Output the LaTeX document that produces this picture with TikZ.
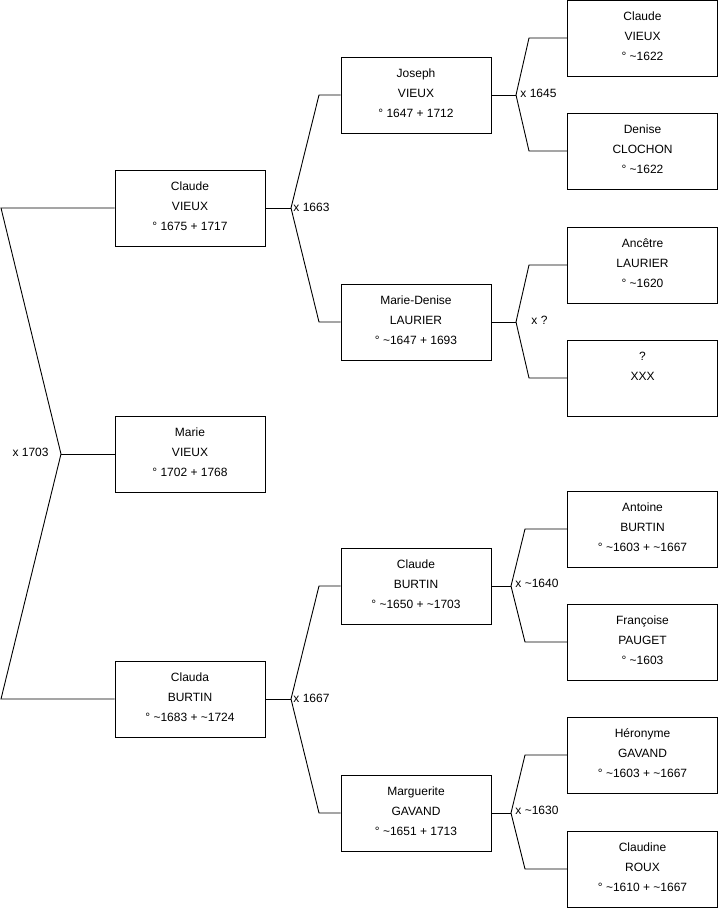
\documentclass[tikz,border=0pt]{standalone}
\usepackage{fontspec}
\setmainfont{Liberation Sans}
\begin{document}
\begin{tikzpicture}[
x=1pt, y=-1pt,
line width=0.9pt,
person/.style={
draw,
align=center,
minimum width=150pt,
minimum height=76pt,
inner sep=0pt,
text depth=4pt,
font=\fontsize{12}{20}\selectfont
},
union/.style={
font=\fontsize{12}{14}\selectfont,
inner sep=1pt
}
]
\useasboundingbox (0,0) rectangle (719,908);

\node[person] (CV) at (190,208)
{Claude\\VIEUX\\° 1675 + 1717};

\node[person] (MV) at (190,454)
{Marie\\VIEUX\\° 1702 + 1768};

\node[person] (CB) at (190,699)
{Clauda\\BURTIN\\° \textasciitilde1683 + \textasciitilde1724};

\node[person] (JV) at (416,95)
{Joseph\\VIEUX\\° 1647 + 1712};

\node[person] (MDL) at (416,322)
{Marie-Denise\\LAURIER\\° \textasciitilde1647 + 1693};

\node[person] (CBu) at (416,586)
{Claude\\BURTIN\\° \textasciitilde1650 + \textasciitilde1703};

\node[person] (MG) at (416,813)
{Marguerite\\GAVAND\\° \textasciitilde1651 + 1713};

\node[person] (CVi) at (642.5,38)
{Claude\\VIEUX\\° \textasciitilde1622};

\node[person] (DC) at (642.5,151)
{Denise\\CLOCHON\\° \textasciitilde1622};

\node[person] (AL) at (642.5,265)
{Ancêtre\\LAURIER\\° \textasciitilde1620};

\node[person] (XX) at (642.5,378)
{?\\XXX\\\mbox{}};

\node[person] (AB) at (642.5,529)
{Antoine\\BURTIN\\° \textasciitilde1603 + \textasciitilde1667};

\node[person] (FP) at (642.5,642)
{Françoise\\PAUGET\\° \textasciitilde1603};

\node[person] (HG) at (642.5,755)
{Héronyme\\GAVAND\\° \textasciitilde1603 + \textasciitilde1667};

\node[person] (CR) at (642.5,869)
{Claudine\\ROUX\\° \textasciitilde1610 + \textasciitilde1667};

\coordinate (J0) at (61,454);
\coordinate (L1) at (1,208);
\coordinate (L2) at (1,699);
\draw (CV.west) -- (L1) -- (J0) -- (L2) -- (CB.west);
\draw (J0) -- (MV.west);
\node[union, anchor=east] (U0) at (50,452) {x 1703};

\coordinate (J1) at (291,208);
\coordinate (A1) at (319,95);
\coordinate (A2) at (319,322);
\draw (CV.east) -- (J1);
\draw (J1) -- (A1) -- (JV.west);
\draw (J1) -- (A2) -- (MDL.west);
\node[union, anchor=west] (U1) at (292,207) {x 1663};

\coordinate (J2) at (291,699);
\coordinate (B1) at (319,586);
\coordinate (B2) at (319,813);
\draw (CB.east) -- (J2);
\draw (J2) -- (B1) -- (CBu.west);
\draw (J2) -- (B2) -- (MG.west);
\node[union, anchor=west] (U2) at (292,698) {x 1667};

\coordinate (J3) at (516,95);
\coordinate (C1) at (529,38);
\coordinate (C2) at (529,151);
\draw (JV.east) -- (J3);
\draw (J3) -- (C1) -- (CVi.west);
\draw (J3) -- (C2) -- (DC.west);
\node[union, anchor=west] (U3) at (519,93) {x 1645};

\coordinate (J4) at (516,322);
\coordinate (D1) at (529,265);
\coordinate (D2) at (529,378);
\draw (MDL.east) -- (J4);
\draw (J4) -- (D1) -- (AL.west);
\draw (J4) -- (D2) -- (XX.west);
\node[union, anchor=west] (U4) at (530,320) {x ?};

\coordinate (J5) at (511,586);
\coordinate (E1) at (525,529);
\coordinate (E2) at (525,642);
\draw (CBu.east) -- (J5);
\draw (J5) -- (E1) -- (AB.west);
\draw (J5) -- (E2) -- (FP.west);
\node[union, anchor=west] (U5) at (514,583) {x \textasciitilde1640};

\coordinate (J6) at (511,813);
\coordinate (F1) at (525,755);
\coordinate (F2) at (525,869);
\draw (MG.east) -- (J6);
\draw (J6) -- (F1) -- (HG.west);
\draw (J6) -- (F2) -- (CR.west);
\node[union, anchor=west] (U6) at (514,810) {x \textasciitilde1630};

\end{tikzpicture}
\end{document}
